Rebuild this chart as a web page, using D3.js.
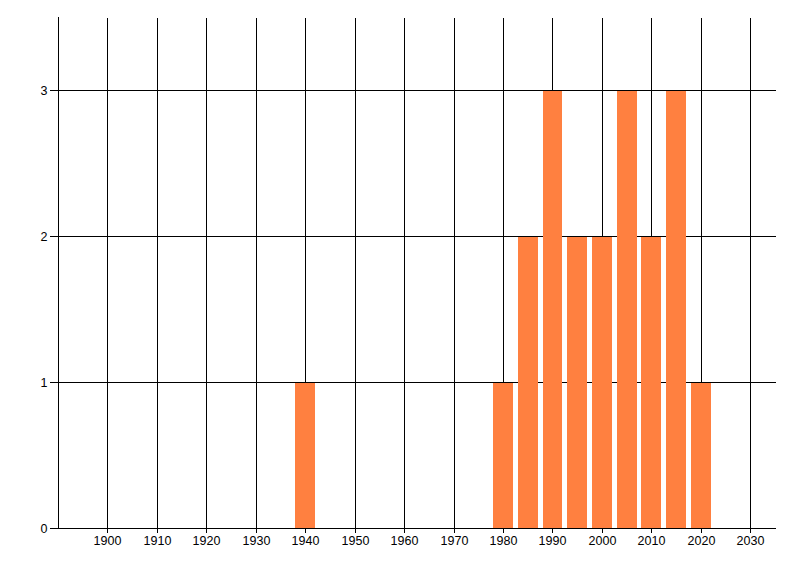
<!DOCTYPE html>
<html>
<head>
<meta charset="utf-8">
<script src="https://cdn.jsdelivr.net/npm/d3@7"></script>
<style>
  body { margin: 0; background: #fff; }
  svg { display: block; }
  .tick text { font-family: "Liberation Sans Narrow", "Liberation Sans", Arial, sans-serif; font-size: 12.5px; fill: #000; }
</style>
</head>
<body>
<svg id="chart" width="800" height="576"></svg>
<script>
// values
const years = [1940, 1980, 1985, 1990, 1995, 2000, 2005, 2010, 2015, 2020]
const counts = [1, 1, 2, 3, 2, 2, 3, 2, 3, 1]
const xTicks = [1900, 1910, 1920, 1930, 1940, 1950, 1960, 1970, 1980, 1990, 2000, 2010, 2020, 2030]
const yTicks = [0, 1, 2, 3]

const data = years.map((y, i) => ({ year: y, value: counts[i] }))

let plotLeft = 58, plotRight = 775, plotTop = 17, plotBottom = 528

const svg = d3.select("#chart")

let x = d3.scaleLinear().domain([1890, 2035]).range([plotLeft, plotRight])
let y = d3.scaleLinear().domain([0, 3.5]).range([plotBottom, plotTop])

// y grid + labels: axis sits on the right edge, ticks run left past the plot
svg.append("g")
    .attr("transform", "translate(" + (plotRight + 0.5) + ",0.5)")
    .call(d3.axisLeft(y).tickValues(yTicks).tickFormat(d3.format("d"))
        .tickSizeInner(plotRight - plotLeft + 9).tickSizeOuter(0).tickPadding(2))
    .call(g => g.select(".domain").remove())
    .call(g => g.selectAll(".tick").attr("transform", d => "translate(0," + Math.round(y(d)) + ")"))
    .call(g => g.selectAll(".tick line").attr("stroke", "#000").attr("shape-rendering", "crispEdges"))

// x grid + labels, small stubs hang below the axis
svg.append("g")
    .attr("transform", "translate(0.5," + (plotBottom + 0.5) + ")")
    .call(d3.axisBottom(x).tickValues(xTicks).tickFormat(d3.format("d"))
        .tickSizeInner(-(plotBottom - plotTop)).tickSizeOuter(0).tickPadding(8))
    .call(g => g.select(".domain").remove())
    .call(g => g.selectAll(".tick").attr("transform", d => "translate(" + Math.round(x(d)) + ",0)"))
    .call(g => g.selectAll(".tick line").attr("y1", 4).attr("stroke", "#000").attr("shape-rendering", "crispEdges"))

// left axis line
svg.append("line")
    .attr("x1", plotLeft + 0.5).attr("x2", plotLeft + 0.5)
    .attr("y1", plotTop).attr("y2", plotBottom)
    .attr("stroke", "#000")
    .attr("shape-rendering", "crispEdges")

// bars, 4 years wide, drawn over the grid
svg.append("g")
    .selectAll("rect")
    .data(data)
    .join("rect")
    .attr("x", d => Math.round(x(d.year - 2)))
    .attr("width", d => Math.round(x(d.year + 2)) - Math.round(x(d.year - 2)))
    .attr("y", d => Math.round(y(d.value)) + 1)
    .attr("height", d => plotBottom - Math.round(y(d.value)) - 1)
    .attr("fill", "#ff8040")
    .attr("shape-rendering", "crispEdges")
</script>
</body>
</html>
